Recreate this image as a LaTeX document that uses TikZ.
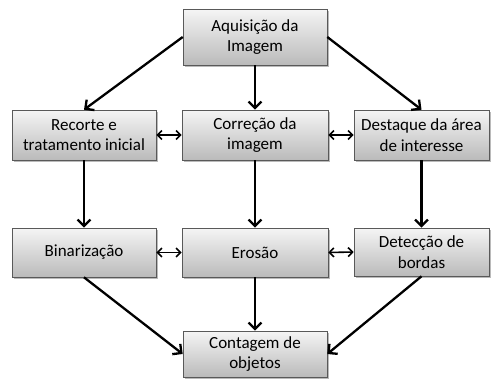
\documentclass[tikz,border=0pt]{standalone}
\usepackage{fontspec}
\setmainfont{Carlito}
\usetikzlibrary{shadows,arrows.meta}
\begin{document}
\begin{tikzpicture}[x=1pt,y=-1pt,
  box/.style={draw=black!65, line width=0.6pt, top color=black!4, bottom color=black!27,
    minimum height=50pt, align=center, inner sep=0pt,
    font=\fontsize{17}{20.5}\selectfont,
    drop shadow={shadow xshift=2pt,shadow yshift=-2pt,opacity=0.45,fill=black!60}},
  arr/.style={line width=2.3pt, -{Straight Barb[length=6.5pt,width=13pt,line width=2.3pt]}},
  dbl/.style={line width=1.6pt, {Straight Barb[length=4.5pt,width=9pt,line width=1.6pt]}-{Straight Barb[length=4.5pt,width=9pt,line width=1.6pt]}}]
\useasboundingbox (0,0) rectangle (491,381);
\fill[white] (0,0) rectangle (491,381);
\node[box, minimum width=144pt, minimum height=56pt] (aq) at (255,37) {Aquisição da\\Imagem};
\node[box, minimum width=144pt] (rec) at (84,135) {Recorte e\\tratamento inicial};
\node[box, minimum width=146pt] (cor) at (255,135) {Correção da\\imagem};
\node[box, minimum width=135pt] (des) at (421.5,135) {Destaque da área\\de interesse};
\node[box, minimum width=144pt, minimum height=49pt] (bin) at (84,252.5) {Binarização};
\node[box, minimum width=146pt, minimum height=49pt] (ero) at (255,252.5) {Erosão};
\node[box, minimum width=135pt, minimum height=48pt] (det) at (421.5,252) {Detecção de\\bordas};
\node[box, minimum width=144pt, minimum height=46pt] (con) at (255,354) {Contagem de\\objetos};
\draw[arr] (aq.west) -- (rec.north);
\draw[arr] (aq.east) -- (des.north);
\draw[arr] (aq.south) -- (cor.north);
\draw[arr] (rec.south) -- (bin.north);
\draw[arr] (cor.south) -- (ero.north);
\draw[arr] (des.south) -- (det.north);
\draw[arr] (bin.south) -- (con.west);
\draw[arr] (ero.south) -- (con.north);
\draw[arr] (det.south) -- (con.east);
\draw[dbl] (rec.east) -- (cor.west);
\draw[dbl] (cor.east) -- (des.west);
\draw[dbl] (bin.east) -- (ero.west);
\draw[dbl] (ero.east) -- (det.west);
\end{tikzpicture}
\end{document}
